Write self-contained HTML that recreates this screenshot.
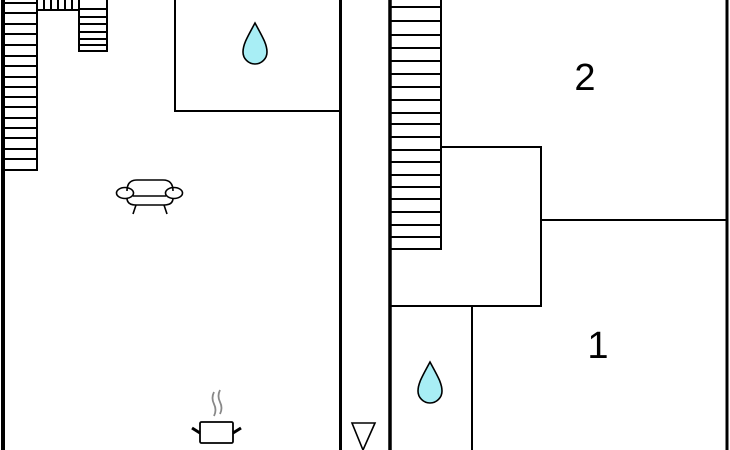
<!DOCTYPE html>
<html><head><meta charset="utf-8"><style>html,body{margin:0;padding:0;background:#fff;width:730px;height:450px;overflow:hidden}</style></head>
<body>
<svg width="730" height="450" viewBox="0 0 730 450" xmlns="http://www.w3.org/2000/svg" fill="none" stroke="#000" stroke-width="2">
<line x1="3" y1="0" x2="3" y2="450" stroke-width="4"/>
<line x1="340.5" y1="0" x2="340.5" y2="450" stroke-width="3"/>
<line x1="390" y1="0" x2="390" y2="450" stroke-width="3.5"/>
<line x1="727" y1="0" x2="727" y2="450" stroke-width="3"/>
<rect x="3" y="-2" width="34" height="172"/>
<g>
<line x1="3" x2="37" y1="3" y2="3"/><line x1="3" x2="37" y1="13" y2="13"/><line x1="3" x2="37" y1="24" y2="24"/><line x1="3" x2="37" y1="34" y2="34"/><line x1="3" x2="37" y1="45" y2="45"/><line x1="3" x2="37" y1="56" y2="56"/><line x1="3" x2="37" y1="66" y2="66"/><line x1="3" x2="37" y1="77" y2="77"/><line x1="3" x2="37" y1="87" y2="87"/><line x1="3" x2="37" y1="97" y2="97"/><line x1="3" x2="37" y1="107" y2="107"/><line x1="3" x2="37" y1="118" y2="118"/><line x1="3" x2="37" y1="128" y2="128"/><line x1="3" x2="37" y1="138" y2="138"/><line x1="3" x2="37" y1="149" y2="149"/><line x1="3" x2="37" y1="159" y2="159"/>
</g>
<rect x="37" y="-2" width="42" height="12"/>
<line x1="44" y1="0" x2="44" y2="10"/><line x1="51" y1="0" x2="51" y2="10"/><line x1="58" y1="0" x2="58" y2="10"/><line x1="65" y1="0" x2="65" y2="10"/><line x1="72" y1="0" x2="72" y2="10"/>
<rect x="79" y="-2" width="28" height="53"/>
<line x1="79" x2="107" y1="9" y2="9"/><line x1="79" x2="107" y1="17" y2="17"/><line x1="79" x2="107" y1="24" y2="24"/><line x1="79" x2="107" y1="32" y2="32"/><line x1="79" x2="107" y1="39" y2="39"/><line x1="79" x2="107" y1="45" y2="45"/>
<polyline points="175,0 175,111 340,111"/>
<rect x="390" y="-2" width="51" height="251"/>
<g>
<line x1="390" x2="441" y1="7" y2="7"/><line x1="390" x2="441" y1="21" y2="21"/><line x1="390" x2="441" y1="35" y2="35"/><line x1="390" x2="441" y1="48" y2="48"/><line x1="390" x2="441" y1="61" y2="61"/><line x1="390" x2="441" y1="74" y2="74"/><line x1="390" x2="441" y1="87" y2="87"/><line x1="390" x2="441" y1="100" y2="100"/><line x1="390" x2="441" y1="113" y2="113"/><line x1="390" x2="441" y1="124" y2="124"/><line x1="390" x2="441" y1="137" y2="137"/><line x1="390" x2="441" y1="150" y2="150"/><line x1="390" x2="441" y1="162" y2="162"/><line x1="390" x2="441" y1="175" y2="175"/><line x1="390" x2="441" y1="187" y2="187"/><line x1="390" x2="441" y1="199" y2="199"/><line x1="390" x2="441" y1="212" y2="212"/><line x1="390" x2="441" y1="225" y2="225"/><line x1="390" x2="441" y1="237" y2="237"/>
</g>
<polyline points="441,147 541,147 541,306 390,306"/>
<line x1="541" y1="220" x2="727" y2="220"/>
<line x1="472" y1="306" x2="472" y2="450"/>
<text x="585" y="90" font-family="Liberation Sans, sans-serif" font-size="38" fill="#000" stroke="none" text-anchor="middle">2</text>
<text x="598" y="358" font-family="Liberation Sans, sans-serif" font-size="38" fill="#000" stroke="none" text-anchor="middle">1</text>
<path d="M255,23 C248,36 243,44 243,52 A12,12 0 0 0 267,52 C267,44 262,36 255,23 Z" fill="#a8eef5" stroke-width="1.6"/>
<path d="M430,362 C423,375 418,383 418,391 A12,12 0 0 0 442,391 C442,383 437,375 430,362 Z" fill="#a8eef5" stroke-width="1.6"/>
<g stroke-width="1.6">
<path d="M127,191 Q127,180 137,180 L163,180 Q173,180 173,191"/>
<ellipse cx="125" cy="193" rx="8.5" ry="5.5"/>
<ellipse cx="174" cy="193" rx="8.5" ry="5.5"/>
<line x1="133" y1="196" x2="166" y2="196"/>
<path d="M127,198 Q127,205 136,205 L164,205 Q173,205 173,198"/>
<line x1="136" y1="205" x2="133" y2="214"/><line x1="164" y1="205" x2="167" y2="214"/>
</g>
<rect x="200" y="422" width="33" height="21" rx="1.5" stroke-width="1.8"/>
<line x1="192" y1="428" x2="200" y2="433" stroke-width="3"/>
<line x1="241" y1="428" x2="233" y2="433" stroke-width="3"/>
<path d="M214,392 Q211,398 214,404 Q217,410 214,416" stroke="#888" stroke-width="1.8"/>
<path d="M220,390 Q217,396 220,402 Q223,408 220,414" stroke="#888" stroke-width="1.8"/>
<polygon points="352,423 375,423 363,450" stroke-width="1.6"/>
</svg>
</body></html>
